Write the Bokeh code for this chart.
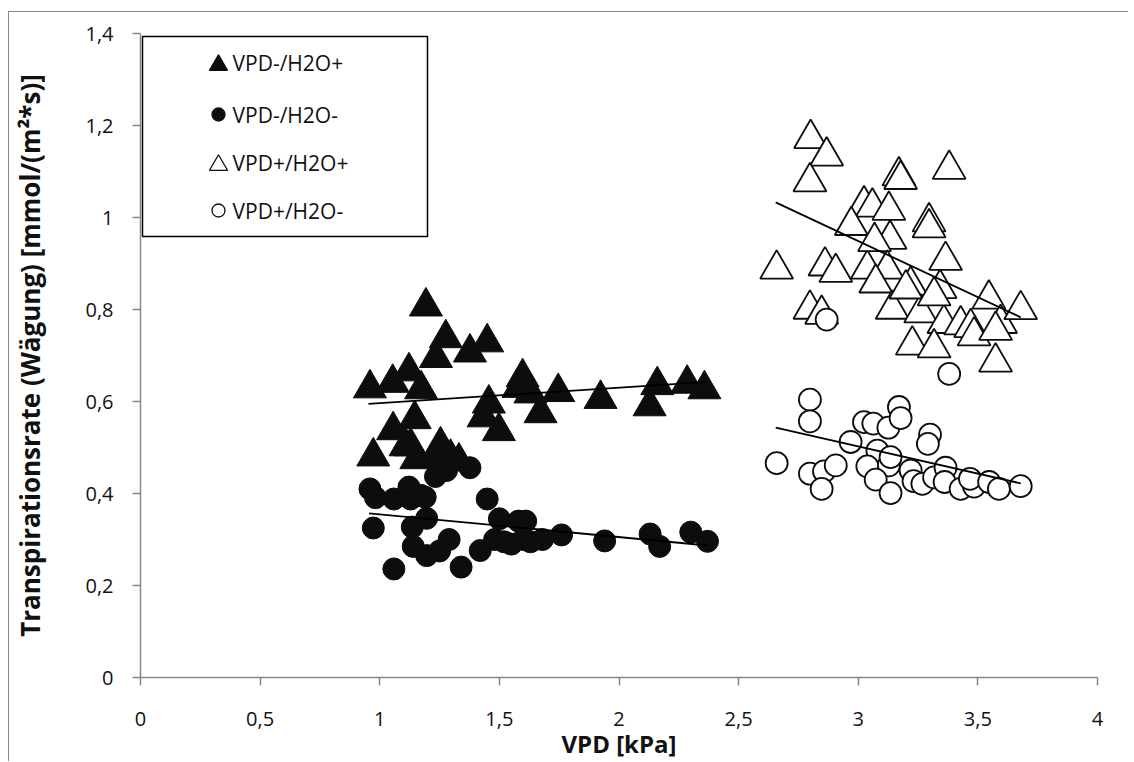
import numpy as np
from bokeh.plotting import figure
from bokeh.models import Range1d, FixedTicker, ColumnDataSource, BoxAnnotation
from bokeh.embed import file_html
from bokeh.resources import INLINE
from bokeh.core.properties import value

# ---------------- data ----------------
series_names = ["VPD-/H2O+", "VPD-/H2O-", "VPD+/H2O+", "VPD+/H2O-"]

vpd_minus_h2o_plus_x = [0.959, 1.054, 1.122, 1.173, 1.193, 1.235, 1.276, 1.377, 1.449, 1.456,
                        1.498, 1.580, 1.597, 1.630, 1.672, 1.746, 1.923, 2.128, 2.160, 2.285,
                        2.357, 1.146, 1.056, 0.973, 1.129, 1.108, 1.153, 1.233, 1.254, 1.296,
                        1.331, 1.434]
vpd_minus_h2o_plus_y = [0.639, 0.651, 0.676, 0.637, 0.817, 0.705, 0.748, 0.717, 0.739, 0.606,
                        0.546, 0.640, 0.663, 0.628, 0.585, 0.631, 0.616, 0.600, 0.646, 0.649,
                        0.637, 0.572, 0.548, 0.491, 0.513, 0.513, 0.485, 0.489, 0.515, 0.488,
                        0.480, 0.576]

vpd_minus_h2o_minus_x = [0.959, 0.982, 1.059, 1.122, 1.129, 1.171, 1.190, 1.233, 1.279, 1.377,
                         1.449, 0.973, 1.136, 1.196, 1.140, 1.196, 1.059, 1.250, 1.290, 1.340,
                         1.420, 1.480, 1.500, 1.520, 1.550, 1.580, 1.610, 1.600, 1.630, 1.680,
                         1.760, 1.940, 2.130, 2.170, 2.300, 2.370]
vpd_minus_h2o_minus_y = [0.410, 0.391, 0.388, 0.414, 0.388, 0.396, 0.392, 0.437, 0.450, 0.456,
                         0.388, 0.325, 0.327, 0.346, 0.285, 0.265, 0.236, 0.275, 0.300, 0.240,
                         0.276, 0.300, 0.345, 0.295, 0.290, 0.340, 0.340, 0.300, 0.295, 0.300,
                         0.310, 0.297, 0.312, 0.285, 0.316, 0.296]

vpd_plus_h2o_plus_x = [2.801, 2.868, 2.798, 3.024, 3.059, 2.971, 3.128, 3.133, 2.659, 2.861,
                       2.906, 3.038, 3.068, 3.121, 3.073, 2.798, 2.847, 3.142, 3.170, 3.177,
                       3.380, 3.296, 3.296, 3.365, 3.219, 3.342, 3.261, 3.358, 3.428, 3.470,
                       3.484, 3.546, 3.595, 3.574, 3.679, 3.574, 3.226, 3.317, 3.199, 3.317]
vpd_plus_h2o_plus_y = [1.182, 1.144, 1.088, 1.038, 1.033, 0.993, 1.026, 0.963, 0.898, 0.905,
                       0.891, 0.898, 0.958, 0.898, 0.868, 0.811, 0.800, 0.811, 1.101, 1.093,
                       1.115, 1.001, 0.988, 0.917, 0.863, 0.856, 0.803, 0.780, 0.777, 0.771,
                       0.753, 0.833, 0.780, 0.765, 0.810, 0.696, 0.733, 0.727, 0.855, 0.840]

vpd_plus_h2o_minus_x = [2.798, 2.798, 2.659, 2.798, 2.857, 2.906, 2.847, 2.968, 3.024, 3.063,
                        3.126, 3.170, 3.177, 3.080, 3.038, 3.128, 3.135, 3.073, 3.135, 3.300,
                        3.291, 3.219, 3.231, 3.268, 3.317, 3.365, 3.361, 3.428, 3.484, 3.467,
                        3.547, 3.588, 3.679, 3.380, 2.868]
vpd_plus_h2o_minus_y = [0.604, 0.557, 0.466, 0.443, 0.448, 0.461, 0.410, 0.512, 0.555, 0.552,
                        0.543, 0.588, 0.564, 0.493, 0.459, 0.461, 0.479, 0.430, 0.401, 0.528,
                        0.508, 0.450, 0.427, 0.421, 0.435, 0.456, 0.425, 0.410, 0.415, 0.432,
                        0.425, 0.410, 0.416, 0.660, 0.778]

# linear trend lines (x start, x end, y start, y end)
trend_vpd_minus_h2o_plus = [0.953, 2.358, 0.595, 0.642]
trend_vpd_minus_h2o_minus = [0.955, 2.370, 0.357, 0.287]
trend_vpd_plus_h2o_plus = [2.655, 3.679, 1.033, 0.783]
trend_vpd_plus_h2o_minus = [2.655, 3.679, 0.543, 0.422]

x_ticks = [0, 0.5, 1, 1.5, 2, 2.5, 3, 3.5, 4]
x_tick_labels = ["0", "0,5", "1", "1,5", "2", "2,5", "3", "3,5", "4"]
y_ticks = [0, 0.2, 0.4, 0.6, 0.8, 1.0, 1.2, 1.4]
y_tick_labels = ["0", "0,2", "0,4", "0,6", "0,8", "1", "1,2", "1,4"]

x_title = "VPD [kPa]"
y_title = "Transpirationsrate (Wägung) [mmol/(m²*s)]"

# ---------------- layout ----------------
W, H = 1120, 750
ML, MR, MT, MB = 131, 32, 21, 85
FW = W - ML - MR
FH = H - MT - MB
X0, X1, Y0, Y1 = 0.0, 4.0, 0.0, 1.4
px_x = FW / (X1 - X0)
px_y = FH / (Y1 - Y0)

FONT = "Open Sans"
AX_COL = "#878787"
INK = "#0d0d0d"
TXT = "#111111"

p = figure(width=W, height=H, output_backend="svg", toolbar_location=None,
           x_range=Range1d(X0, X1), y_range=Range1d(Y0, Y1),
           min_border_left=ML, min_border_right=MR, min_border_top=MT, min_border_bottom=MB,
           background_fill_color="white", border_fill_color="white")
p.margin = (11, 0, 0, 8)
p.outline_line_color = None
p.grid.visible = False
p.styles = {"border-left": "1px solid #8a8a8a", "border-top": "1px solid #8a8a8a"}

for ax, ticks, labels in ((p.xaxis[0], x_ticks, x_tick_labels), (p.yaxis[0], y_ticks, y_tick_labels)):
    ax.ticker = FixedTicker(ticks=ticks)
    ax.major_label_overrides = {t: l for t, l in zip(ticks, labels)}
    ax.minor_tick_line_color = None
    ax.major_tick_in = 0
    ax.major_tick_out = 8
    ax.axis_line_color = AX_COL
    ax.axis_line_width = 1.5
    ax.major_tick_line_color = AX_COL
    ax.major_tick_line_width = 1.5
    ax.major_label_text_font = FONT
    ax.major_label_text_font_size = "20px"
    ax.major_label_text_color = TXT
    ax.axis_label_text_font = FONT
    ax.axis_label_text_font_style = "bold"
    ax.axis_label_text_color = TXT

p.xaxis.major_label_standoff = 26
p.xaxis.axis_label = x_title
p.xaxis.axis_label_text_font_size = "24px"
p.xaxis.axis_label_standoff = -2
p.yaxis.major_label_standoff = 19
p.yaxis.axis_label = y_title
p.yaxis.axis_label_text_font_size = "26px"
p.yaxis.axis_label_standoff = 34

TRI_SIZE = 33
CIRC_SIZE = 22
tri_h = TRI_SIZE * np.sqrt(3) / 2
tri_shift = (tri_h / 6) / px_y   # bokeh centres triangles on their centroid; Excel on the box


def tri_source(xs, ys, shift):
    return ColumnDataSource(dict(x=xs, y=[v - shift for v in ys]))


def dx(px):  # pixels from frame left -> data x
    return X0 + px / px_x


def dy(px):  # pixels from frame top -> data y
    return Y1 - px / px_y


# legend box (under the glyphs)
box = BoxAnnotation(left=dx(2), right=dx(287), top=dy(3), bottom=dy(203),
                    fill_color="white", fill_alpha=1.0, line_color="black", line_alpha=1.0,
                    line_width=1.5, level="underlay")
p.add_layout(box)

# series (drawn in Excel order)
p.scatter("x", "y", source=tri_source(vpd_minus_h2o_plus_x, vpd_minus_h2o_plus_y, tri_shift),
          marker="triangle", size=TRI_SIZE, fill_color=INK, line_color=INK, line_width=1)
p.scatter(vpd_minus_h2o_minus_x, vpd_minus_h2o_minus_y, marker="circle", size=CIRC_SIZE,
          fill_color=INK, line_color=INK, line_width=1)
p.scatter("x", "y", source=tri_source(vpd_plus_h2o_plus_x, vpd_plus_h2o_plus_y, tri_shift),
          marker="triangle", size=TRI_SIZE, fill_color="white", line_color=INK, line_width=1.8)
p.scatter(vpd_plus_h2o_minus_x, vpd_plus_h2o_minus_y, marker="circle", size=CIRC_SIZE,
          fill_color="white", line_color=INK, line_width=1.8)

for t in (trend_vpd_minus_h2o_plus, trend_vpd_minus_h2o_minus,
          trend_vpd_plus_h2o_plus, trend_vpd_plus_h2o_minus):
    p.line([t[0], t[1]], [t[2], t[3]], line_color="black", line_width=1.8)

# legend entries
row_px = [29, 81, 129, 177]
mark_x = dx(78)
leg_tri_size = 18
leg_tri_shift = (leg_tri_size * np.sqrt(3) / 2 / 6) / px_y
styles = [("triangle", INK, leg_tri_size, leg_tri_shift),
          ("circle", INK, 13, 0.0),
          ("triangle", "white", leg_tri_size, leg_tri_shift),
          ("circle", "white", 13, 0.0)]
for name, r, (mk, fc, sz, sh) in zip(series_names, row_px, styles):
    p.scatter([mark_x], [dy(r) - sh], marker=mk, size=sz, fill_color=fc, line_color=INK,
              line_width=1.3)
    p.text([dx(92)], [dy(r)], text=[name], text_font=value(FONT), text_font_size=value("21px"),
           text_baseline="middle", text_align="left", text_color=TXT)

open("out.html", "w").write(file_html(p, INLINE))
